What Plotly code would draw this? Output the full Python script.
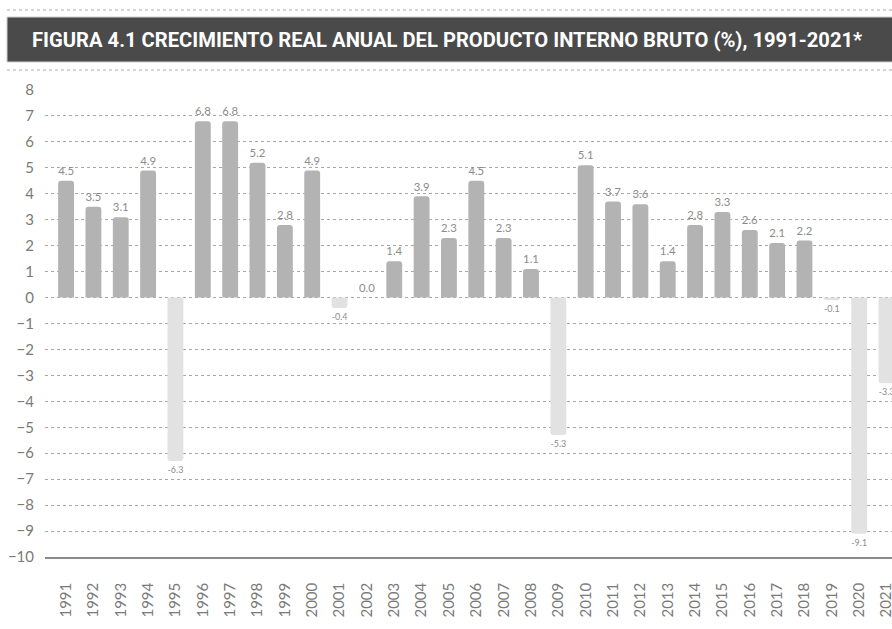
import plotly.graph_objects as go

years = [str(y) for y in range(1991, 2022)]
growth = [4.5, 3.5, 3.1, 4.9, -6.3, 6.8, 6.8, 5.2, 2.8, 4.9, -0.4, 0.0, 1.4, 3.9, 2.3,
          4.5, 2.3, 1.1, -5.3, 5.1, 3.7, 3.6, 1.4, 2.8, 3.3, 2.6, 2.1, 2.2, -0.1, -9.1, -3.3]
title_text = "FIGURA 4.1 CRECIMIENTO REAL ANUAL DEL PRODUCTO INTERNO BRUTO (%), 1991-2021*"

POS = "#b3b3b3"
NEG = "#e2e2e2"
colors = [POS if v >= 0 else NEG for v in growth]

fig = go.Figure(go.Bar(
    x=list(range(len(years))), y=growth,
    marker=dict(color=colors, line=dict(width=0)),
    width=0.58,
    texttemplate="%{y:.1f}", textposition="outside",
    textfont=dict(family="Lato", size=12, color="#8c8c8c"),
    cliponaxis=True,
))

W, H = 892, 629
L, R = 45, 0
T = 90
B = H - 557
ph = H - T - B
pw = W - L - R

def py(pix):
    return (H - B - pix) / ph

def px(pix):
    return (pix - L) / pw

shapes = [
    dict(type="rect", xref="paper", yref="paper", x0=px(7), x1=px(900), y0=py(62), y1=py(17),
         fillcolor="#4a4a4a", line=dict(width=1, color="#cfcfcf"), layer="above"),
    dict(type="line", xref="paper", yref="paper", x0=px(7), x1=px(900), y0=py(10), y1=py(10),
         line=dict(color="#aaaaaa", width=1, dash="dot")),
    dict(type="line", xref="paper", yref="paper", x0=px(7), x1=px(900), y0=py(70), y1=py(70),
         line=dict(color="#aaaaaa", width=1, dash="dot")),
]

fig.update_layout(
    width=W, height=H,
    margin=dict(l=L, r=R, t=T, b=B, pad=0, autoexpand=False),
    paper_bgcolor="white", plot_bgcolor="white",
    showlegend=False,
    barcornerradius=3,
    shapes=shapes,
    annotations=[dict(text="<b>" + title_text + "</b>", xref="paper", yref="paper",
                      x=px(447), y=py(40), xanchor="center", yanchor="middle", showarrow=False,
                      font=dict(family="Roboto", size=20.2, color="white"))],
    xaxis=dict(
        tickmode="array", tickvals=list(range(len(years))), ticktext=years,
        range=[-0.77, 30.2], tickangle=-90, automargin=False,
        tickfont=dict(family="Lato", size=15, color="#7a7a7a"),
        showgrid=False, zeroline=False,
        showline=True, linecolor="#8a8a8a", linewidth=1.5,
        ticks="", ticklabelstandoff=18, ticklabeloverflow="allow",
    ),
    yaxis=dict(
        range=[-10, 8], dtick=1, tick0=0, automargin=False,
        tickfont=dict(family="Lato", size=15, color="#7a7a7a"),
        showgrid=True, gridcolor="#a8a8a8", gridwidth=1, griddash="dot",
        zeroline=False, ticks="", ticklabelstandoff=10,
    ),
)

fig.write_html("out.html", config={"displayModeBar": False},
               post_script="document.body.style.margin='0';document.body.style.overflow='hidden';")
